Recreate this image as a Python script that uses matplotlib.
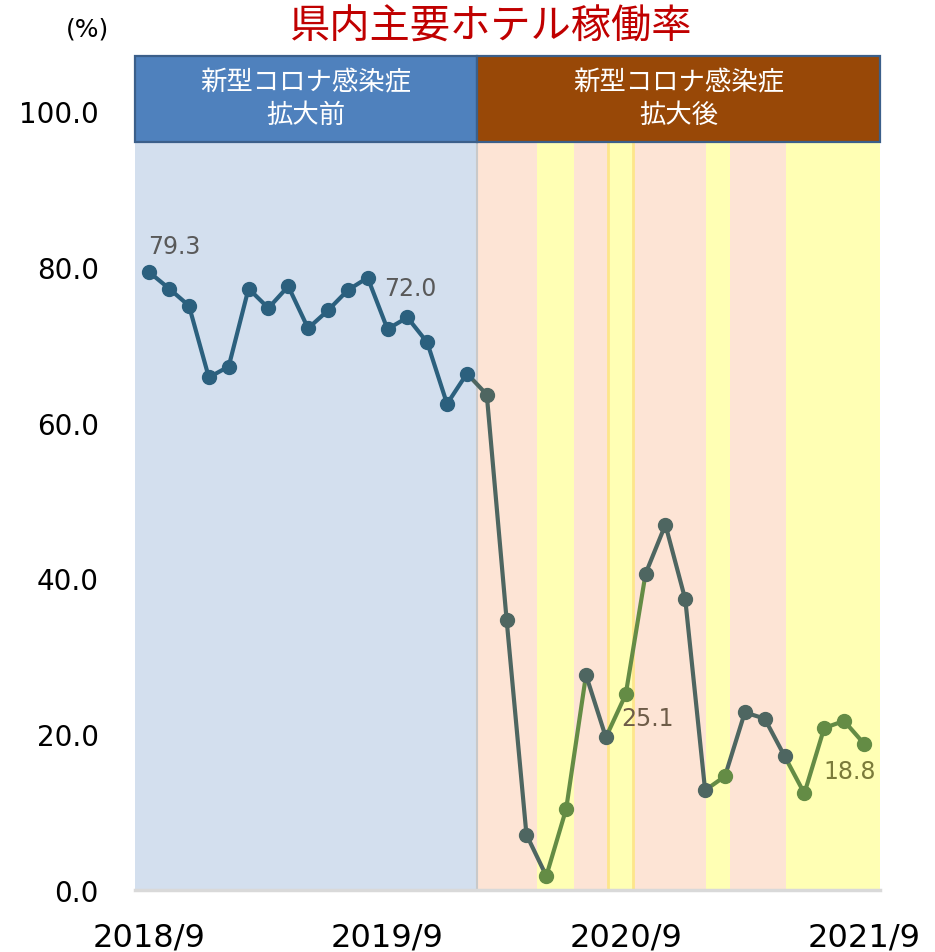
import matplotlib
matplotlib.use("Agg")
import matplotlib.pyplot as plt
from matplotlib.patches import Rectangle
from matplotlib.transforms import blended_transform_factory

plt.rcParams["font.family"] = ["DejaVu Sans", "Noto Sans CJK JP"]

# 2018/9 .. 2021/9 monthly occupancy (%)
rate = [79.3, 77.2, 75.0, 65.8, 67.2, 77.2, 74.7, 77.5, 72.1, 74.4,
        77.0, 78.6, 72.0, 73.5, 70.3, 62.4, 66.3, 63.6, 34.7, 7.1,
        1.8, 10.4, 27.6, 19.6, 25.1, 40.6, 46.9, 37.3, 12.8, 14.6,
        22.8, 22.0, 17.2, 12.4, 20.8, 21.7, 18.8]

# b = before, g = after (pink period), G = after (yellow period)
point_kind = "b" * 17 + "ggg" + "GG" + "gg" + "G" + "gggg" + "G" + "ggg" + "GGGG"
segment_kind = "b" * 16 + "gggg" + "GG" + "g" + "GG" + "ggg" + "G" + "ggg" + "GGGG"

tick_pos = [0, 12, 24, 36]
tick_labels = ["2018/9", "2019/9", "2020/9", "2021/9"]

# background periods (month index units)
pre_end = 16.5
periods = [(16.5, 19.52, "pink"), (19.52, 21.41, "yellow"), (21.41, 23.12, "pink"),
           (23.12, 24.35, "yellow"), (24.35, 28.03, "pink"), (28.03, 29.25, "yellow"),
           (29.25, 32.06, "pink"), (32.06, 36.81, "yellow")]

labels = {0: "79.3", 12: "72.0", 24: "25.1", 36: "18.8"}
label_offset = {0: (25, 26), 12: (23, 41), 24: (22, -24), 36: (-14, -27)}
label_color = {0: "#595959", 12: "#595959", 24: "#6E5C48", 36: "#7B7B3A"}

colors = {"b": "#2B607E", "g": "#4E6661", "G": "#648C45"}
bg = {"pink": "#FDE4D5", "yellow": "#FFFFB4"}

fig = plt.figure(figsize=(9.35, 9.53), dpi=100)
ax = fig.add_axes([135 / 935, 1 - 891 / 953, 745 / 935, 835 / 953])

x0, x1 = -0.72, 36.81
ax.set_xlim(x0, x1)
ax.set_ylim(0, 835 / 7.79)
band_top = 748 / 835

ax.axvspan(x0, pre_end, ymin=0, ymax=band_top, color="#D3DFEE", lw=0, zorder=0)
for a, b, kind in periods:
    ax.axvspan(a, b, ymin=0, ymax=band_top, color=bg[kind], lw=0, zorder=0)
ax.axvline(pre_end, ymax=band_top, color="#C9C9C9", lw=1.5, zorder=1)
for xv in [23.12, 24.35]:
    ax.axvline(xv, ymax=band_top, color="#FDE68A", lw=2, zorder=1)

# header boxes
tr = blended_transform_factory(ax.transData, ax.transAxes)
boxes = [(x0, pre_end, "#4F81BD", "新型コロナ感染症\n拡大前"),
         (pre_end, x1, "#984807", "新型コロナ感染症\n拡大後")]
for a, b, fc, txt in boxes:
    ax.add_patch(Rectangle((a, band_top), b - a, 0.999 - band_top, transform=tr,
                           facecolor=fc, edgecolor="#3B5F8A", lw=1.6,
                           clip_on=False, zorder=3))
    ax.text((a + b) / 2, (band_top + 1) / 2, txt, transform=tr, ha="center",
            va="center", color="white", fontsize=19, linespacing=1.25,
            family=["Noto Sans CJK JP"], zorder=4)

# line segments and markers
for i in range(len(rate) - 1):
    ax.plot([i, i + 1], [rate[i], rate[i + 1]], color=colors[segment_kind[i]],
            lw=3, solid_capstyle="round", zorder=5)
for i, v in enumerate(rate):
    ax.plot(i, v, "o", ms=10, color=colors[point_kind[i]], zorder=6)

for i, txt in labels.items():
    ax.annotate(txt, (i, rate[i]), xytext=label_offset[i], textcoords="offset pixels",
                ha="center", va="center", fontsize=17, color=label_color[i], zorder=7)

for s in ["top", "left", "right"]:
    ax.spines[s].set_visible(False)
ax.spines["bottom"].set_color("#D9D9D9")
ax.spines["bottom"].set_linewidth(2.5)

ax.set_yticks([0, 20, 40, 60, 80, 100])
ax.set_yticklabels(["%.1f" % v for v in [0, 20, 40, 60, 80, 100]])
ax.tick_params(axis="y", length=0, pad=26, labelsize=20)
ax.set_xticks(tick_pos)
ax.set_xticklabels(tick_labels)
ax.tick_params(axis="x", length=0, pad=23, labelsize=23)

fig.text(87 / 935, 1 - 30 / 953, "(%)", ha="center", va="center", fontsize=18)
fig.text(491 / 935, 1 - 27 / 953, "県内主要ホテル稼働率", ha="center", va="center",
         fontsize=29, color="#C00000", family=["Noto Sans CJK JP"])

fig.savefig("out.png", dpi=100)
